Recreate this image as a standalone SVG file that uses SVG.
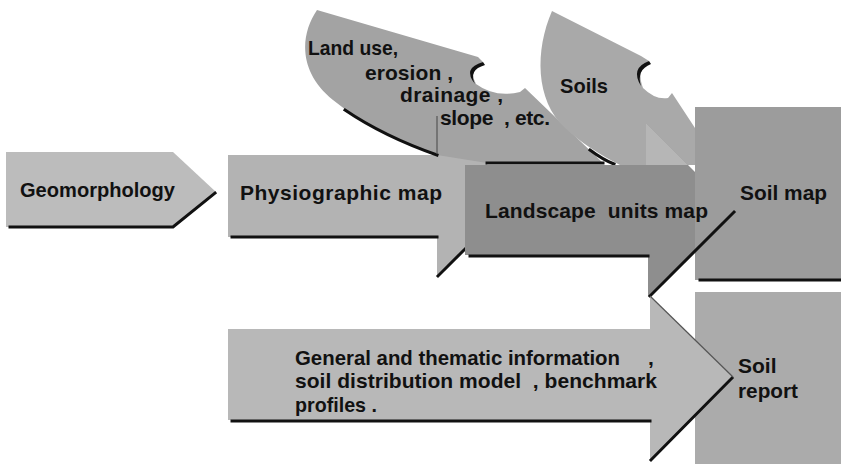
<svg xmlns="http://www.w3.org/2000/svg" width="841" height="464" viewBox="0 0 841 464">
<style>
text{font-family:"Liberation Sans",Arial,sans-serif;font-weight:bold;font-size:21px;fill:#111;white-space:pre}
.sh{fill:none;stroke:#111;stroke-width:3;stroke-linecap:square}
.thin{fill:none;stroke:#555;stroke-width:1.2}
</style>
<rect width="841" height="464" fill="#fff"/>
<g id="geomorphology">
<polygon points="6,152 173,152 216,192 173,227 6,227" fill="#bcbcbc"/>
<polyline class="sh" points="10,227 173,227 215,193"/>
<text x="20" y="197" textLength="155" lengthAdjust="spacingAndGlyphs">Geomorphology</text>
</g>
<g id="physiographic">
<polygon points="228,155 437,155 437,115 519,196 437,277 437,237 228,237" fill="#b3b3b3"/>
<line class="sh" x1="232" y1="237" x2="437" y2="237"/>
<line class="sh" x1="438" y1="276" x2="466" y2="248"/>
<text x="240" y="200" textLength="202" lengthAdjust="spacing">Physiographic map</text>
</g>
<g id="landuse">
<path d="M317,10 L478,57 L483,62 Q468,70 476,84 Q495,98 520,92 L525,88 L603,163 L487,163 L437,155 C400,142 360,122 333,100 C298,72 300,35 317,10 Z" fill="#a3a3a3"/>
<path d="M483,62 Q462,68 475,84 Q468,70 485,65 Z" fill="#111"/>
<path d="M437,155 C400,142 370,127 345,110" class="sh" stroke-width="2.5"/>
<line class="thin" x1="437" y1="116" x2="437" y2="154"/>
<text x="308" y="55" textLength="90" lengthAdjust="spacingAndGlyphs">Land use,</text>
<text x="365" y="80" textLength="88" lengthAdjust="spacing">erosion ,</text>
<text x="400" y="102" textLength="103" lengthAdjust="spacing">drainage ,</text>
<text x="440" y="125" textLength="110" lengthAdjust="spacing">slope  , etc.</text>
</g>
<g id="soils">
<path d="M552,11 L641,56 L649,61 Q636,70 643,88 Q655,100 668,98 L672,93 L695,128 L695,165 L620,165 C600,155 580,142 565,128 C535,100 535,50 552,11 Z" fill="#a9a9a9"/>
<path d="M649,61 Q630,68 641,86 Q636,70 651,64 Z" fill="#111"/>
<path d="M590,150 C598,156 606,161 614,164" class="sh" stroke-width="2.5"/>
<text x="560" y="93" textLength="48" lengthAdjust="spacingAndGlyphs">Soils</text>
</g>
<g id="landscape">
<polygon points="465,165 648,165 646,123 734,211 648,297 648,255 465,255" fill="#8e8e8e"/>
<polygon points="646,123 688,165 646,165" fill="#b6b6b6"/>
</g>
<g id="soilmap">
<rect x="695" y="107" width="146" height="173" fill="#9c9c9c"/>
<line class="sh" x1="700" y1="280" x2="841" y2="280"/>
<text x="740" y="200" textLength="87" lengthAdjust="spacingAndGlyphs">Soil map</text>
</g>
<g id="landscape-top">
<line class="sh" x1="487" y1="163" x2="603" y2="163"/>
<line class="sh" x1="470" y1="256" x2="648" y2="256"/>
<line class="sh" x1="650" y1="296" x2="734" y2="212"/>
<text x="485" y="218" textLength="223" lengthAdjust="spacing">Landscape  units map</text>
</g>
<g id="soilreport">
<rect x="695" y="292" width="146" height="172" fill="#ababab"/>
<text x="738" y="373">Soil</text>
<text x="738" y="398" textLength="60" lengthAdjust="spacingAndGlyphs">report</text>
</g>
<g id="general">
<polygon points="228,329 650,329 650,296 733,377 650,461 650,420 228,420" fill="#b8b8b8"/>
<line class="sh" x1="232" y1="421" x2="650" y2="421"/>
<line class="sh" x1="732" y1="378" x2="651" y2="460"/>
<line class="thin" x1="650" y1="296" x2="733" y2="377"/>
<text x="295" y="365" textLength="325" lengthAdjust="spacingAndGlyphs">General and thematic information</text>
<text x="648" y="365">,</text>
<text x="295" y="388" textLength="362" lengthAdjust="spacing">soil distribution model  , benchmark</text>
<text x="295" y="412" textLength="82" lengthAdjust="spacingAndGlyphs">profiles .</text>
</g>
<g id="connectors"></g>
</svg>
